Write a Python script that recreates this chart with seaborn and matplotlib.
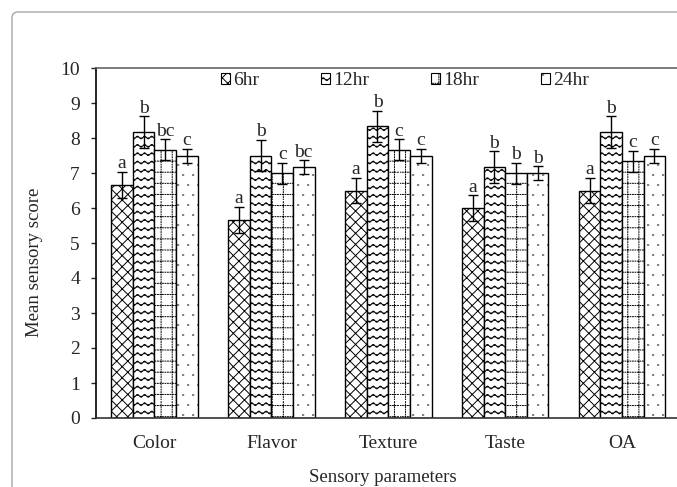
import warnings
import numpy as np
import pandas as pd
import matplotlib
matplotlib.use("Agg")
import matplotlib.pyplot as plt
import matplotlib.hatch as mhatch
from matplotlib.path import Path
from matplotlib.patches import Patch, FancyBboxPatch
import seaborn as sns

warnings.filterwarnings("ignore")

# ==============================
# DATA
# ==============================
params = ["Color", "Flavor", "Texture", "Taste", "OA"]
times = ["6hr", "12hr", "18hr", "24hr"]

score_6hr = [6.67, 5.67, 6.50, 6.00, 6.50]
score_12hr = [8.17, 7.50, 8.33, 7.17, 8.17]
score_18hr = [7.67, 7.00, 7.67, 7.00, 7.33]
score_24hr = [7.50, 7.17, 7.50, 7.00, 7.50]

err_6hr = [0.37, 0.37, 0.37, 0.37, 0.37]
err_12hr = [0.45, 0.45, 0.45, 0.45, 0.45]
err_18hr = [0.30, 0.30, 0.30, 0.30, 0.30]
err_24hr = [0.20, 0.20, 0.20, 0.20, 0.20]

letters_6hr = ["a", "a", "a", "a", "a"]
letters_12hr = ["b", "b", "b", "b", "b"]
letters_18hr = ["bc", "c", "c", "b", "c"]
letters_24hr = ["c", "bc", "c", "b", "c"]

scores = [score_6hr, score_12hr, score_18hr, score_24hr]
errors = [err_6hr, err_12hr, err_18hr, err_24hr]
letters = [letters_6hr, letters_12hr, letters_18hr, letters_24hr]

df = pd.DataFrame({
    "param": params * len(times),
    "time": [t for t in times for _ in params],
    "score": score_6hr + score_12hr + score_18hr + score_24hr,
})


# ==============================
# EXTRA HATCH PATTERNS (wavy lines, dotted grid, sparse dots)
# ==============================
class WaveHatch(mhatch.HatchPatternBase):
    def __init__(self, hatch, density):
        self.num_lines = int(hatch.count("~") * density)
        self.num_seg = 112
        self.num_vertices = self.num_lines * (self.num_seg + 1)

    def set_vertices_and_codes(self, vertices, codes):
        t = np.linspace(0.0, 1.0, self.num_seg + 1)
        rows = (np.arange(self.num_lines) + 0.5) / self.num_lines
        k = 0
        for y0 in rows:
            vertices[k:k + self.num_seg + 1, 0] = t
            vertices[k:k + self.num_seg + 1, 1] = y0 + 0.014 * np.sin(2 * np.pi * 14 * t)
            codes[k] = Path.MOVETO
            codes[k + 1:k + self.num_seg + 1] = Path.LINETO
            k += self.num_seg + 1


class DotGridHatch(mhatch.HatchPatternBase):
    def __init__(self, hatch, density):
        self.num_lines = hatch.count(":") * 9
        self.num_dots = 40
        self.num_vertices = self.num_lines * self.num_dots * 4

    def set_vertices_and_codes(self, vertices, codes):
        pos = (np.arange(self.num_lines) + 0.5) / self.num_lines
        starts = np.arange(self.num_dots) / self.num_dots
        seg = 0.35 / self.num_dots
        segs = []
        for p in pos:
            for s in starts:
                segs.append([(s, p), (s + seg, p)])
                segs.append([(p, s), (p, s + seg)])
        vertices[:] = np.array(segs).reshape(-1, 2)
        codes[0::2] = Path.MOVETO
        codes[1::2] = Path.LINETO


class SparseDotHatch(mhatch.HatchPatternBase):
    def __init__(self, hatch, density):
        self.num_rows = hatch.count(";") * 10
        self.num_vertices = self.num_rows * self.num_rows * 2

    def set_vertices_and_codes(self, vertices, codes):
        step = 1.0 / self.num_rows
        pts = []
        for i in range(self.num_rows):
            shift = step / 2 if i % 2 else 0.0
            for j in range(self.num_rows):
                x = (j + 0.25) * step + shift
                y = (i + 0.5) * step
                pts.append([(x, y), (x + 0.012, y)])
        vertices[:] = np.array(pts).reshape(-1, 2)
        codes[0::2] = Path.MOVETO
        codes[1::2] = Path.LINETO


mhatch._hatch_types.extend([WaveHatch, DotGridHatch, SparseDotHatch])

hatches = ["xxx", "~~", ":", ";"]

# ==============================
# PLOT
# ==============================
sns.set_style("white")
plt.rcParams["font.family"] = ["Liberation Serif", "DejaVu Serif"]
plt.rcParams["hatch.linewidth"] = 0.7
plt.rcParams["hatch.color"] = "black"

fig = plt.figure(figsize=(6.77, 4.87), dpi=100)
ax = fig.add_axes([96 / 677, 69 / 487, 581 / 677, 350 / 487])

sns.barplot(data=df, x="param", y="score", hue="time", order=params,
            hue_order=times, palette={t: "white" for t in times},
            edgecolor="black", linewidth=1.0, width=0.74, saturation=1,
            errorbar=None, legend=False, ax=ax)

for cont, h, means, errs, labs in zip(ax.containers, hatches, scores, errors, letters):
    xs = []
    for bar in cont:
        bar.set_hatch(h)
        xs.append(bar.get_x() + bar.get_width() / 2)
    ax.errorbar(xs, means, yerr=errs, fmt="none", ecolor="black",
                elinewidth=1.0, capsize=3.5, capthick=1.0, zorder=5)
    for x, m, e, lab in zip(xs, means, errs, labs):
        ax.text(x, m + e + 0.1, lab, ha="center", va="baseline", fontsize=14)

ax.set_ylim(0, 10)
ax.set_yticks(range(0, 11))
ax.set_xlim(-0.5, 4.47)
ax.set_xticks(range(len(params)))
ax.set_xticklabels(params)
ax.set_xticks([0.5, 1.5, 2.5, 3.5], minor=True)
ax.tick_params(axis="x", which="major", length=0, pad=12, labelsize=14)
ax.tick_params(axis="x", which="minor", length=3.6, width=1.0, direction="out", color="#333333")
ax.tick_params(axis="y", length=3.6, width=1.0, direction="out", pad=8, labelsize=14, left=True)

ax.set_xlabel("Sensory parameters", fontsize=13.5)
ax.set_ylabel("Mean sensory score", fontsize=13.5)
ax.xaxis.set_label_coords(0.494, -0.147)
ax.yaxis.set_label_coords(-0.092, 0.446)

ax.spines["right"].set_visible(False)
ax.spines["left"].set_color("black")
ax.spines["left"].set_linewidth(1.2)
ax.spines["bottom"].set_color("#333333")
ax.spines["bottom"].set_linewidth(1.2)
ax.spines["top"].set_color("#666666")
ax.spines["top"].set_linewidth(1.2)

handles = [Patch(facecolor="white", edgecolor="black", hatch=h, linewidth=0.8, label=t)
           for t, h in zip(times, hatches)]
ax.legend(handles=handles, loc="center left", bbox_to_anchor=(0.215, 0.963), ncol=4,
          frameon=False, handlelength=0.46, handleheight=0.46, handletextpad=0.15,
          columnspacing=3.2, fontsize=14, borderaxespad=0, borderpad=0)

# rounded outer frame (cropped at right and bottom)
frame = FancyBboxPatch((12, -20), 700, 487 - 12 + 20, boxstyle="round,pad=0,rounding_size=6",
                       transform=None, facecolor="none", edgecolor="#a6a6a6", linewidth=1.0)
fig.patches.append(frame)

fig.savefig("out.png", dpi=100)
